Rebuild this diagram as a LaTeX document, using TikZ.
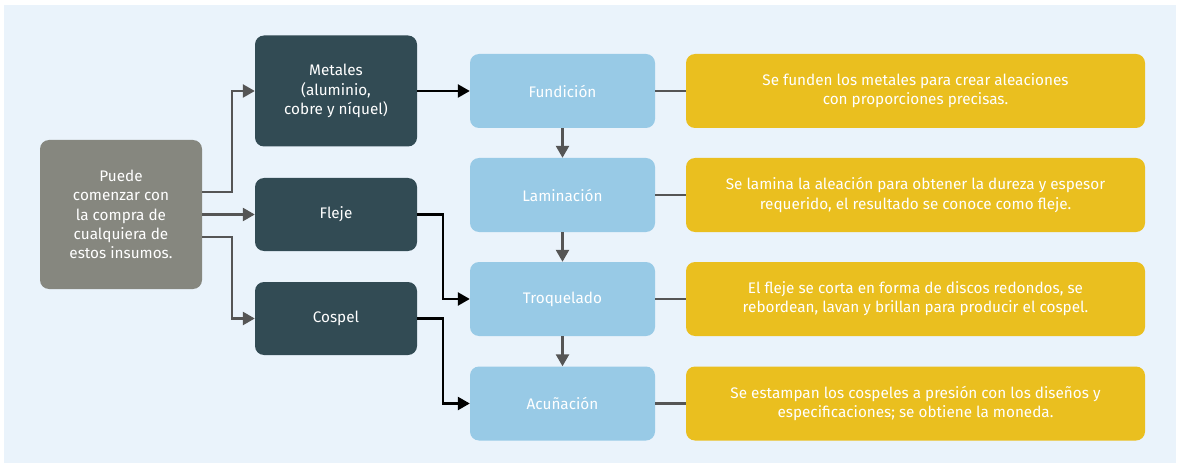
\documentclass[tikz,border=0pt]{standalone}
\usepackage{fontspec}
\setmainfont{Fira Sans}
\usetikzlibrary{arrows.meta}
\definecolor{bgc}{HTML}{EAF3FB}
\definecolor{grayc}{HTML}{86877F}
\definecolor{darkc}{HTML}{324B54}
\definecolor{bluec}{HTML}{98CAE6}
\definecolor{yelc}{HTML}{EABF1F}
\definecolor{linec}{HTML}{555555}
\tikzset{
  box/.style={rounded corners=9pt, inner sep=2pt, align=center, text=white,
    font=\fontsize{15.3}{19.3}\selectfont},
  startbox/.style={box, fill=grayc, minimum width=162pt, minimum height=149pt},
  inbox/.style={box, fill=darkc, minimum width=162pt},
  procbox/.style={box, fill=bluec, minimum width=185pt, minimum height=74pt},
  descbox/.style={box, fill=yelc, minimum width=459pt, minimum height=74pt},
  garrow/.style={draw=linec, line width=2.5pt, -{Triangle[length=12pt,width=13pt]}},
  barrow/.style={draw=black, line width=2.5pt, -{Triangle[length=12pt,width=13pt]}},
  gline/.style={draw=linec, line width=2.5pt},
}
\begin{document}
\begin{tikzpicture}[x=1pt,y=-1pt]
\useasboundingbox (0,0) rectangle (1180,465);
\fill[bgc] (4,5) rectangle (1176,463);
\node[startbox] (puede) at (121,214.5) {Puede\\comenzar con\\la compra de\\cualquiera de\\estos insumos.};
\node[inbox, minimum height=111pt] (metales) at (336,91) {Metales\\(aluminio,\\cobre y níquel)};
\node[inbox, minimum height=73pt] (fleje) at (336,214.5) {Fleje};
\node[inbox, minimum height=73pt] (cospel) at (336,318.5) {Cospel};
\node[procbox] (fund) at (562.5,91) {Fundición};
\node[procbox] (lam) at (562.5,195) {Laminación};
\node[procbox] (troq) at (562.5,299) {Troquelado};
\node[procbox] (acu) at (562.5,403.5) {Acuñación};
\node[descbox] (d1) at (915.5,91) {Se funden los metales para crear aleaciones\\con proporciones precisas.};
\node[descbox] (d2) at (915.5,195) {Se lamina la aleación para obtener la dureza y espesor\\requerido, el resultado se conoce como fleje.};
\node[descbox] (d3) at (915.5,299) {El fleje se corta en forma de discos redondos, se\\rebordean, lavan y brillan para producir el cospel.};
\node[descbox] (d4) at (915.5,403.5) {Se estampan los cospeles a presión con los diseños y\\especificaciones; se obtiene la moneda.};
% connectors from start
\draw[garrow] ([yshift=22.5pt]puede.east) -- ++(30,0) |- (metales.west);
\draw[garrow] (puede.east) -- (fleje.west);
\draw[garrow] ([yshift=-22.5pt]puede.east) -- ++(30,0) |- (cospel.west);
% inputs to process
\draw[barrow] (metales.east) -- (fund.west);
\draw[barrow] (fleje.east) -- ++(26,0) |- (troq.west);
\draw[barrow] (cospel.east) -- ++(26,0) |- (acu.west);
% process chain
\draw[garrow] (fund.south) -- (lam.north);
\draw[garrow] (lam.south) -- (troq.north);
\draw[garrow] (troq.south) -- (acu.north);
% process to description
\draw[gline] (fund.east) -- (d1.west);
\draw[gline] (lam.east) -- (d2.west);
\draw[gline] (troq.east) -- (d3.west);
\draw[gline] (acu.east) -- (d4.west);
\end{tikzpicture}
\end{document}
